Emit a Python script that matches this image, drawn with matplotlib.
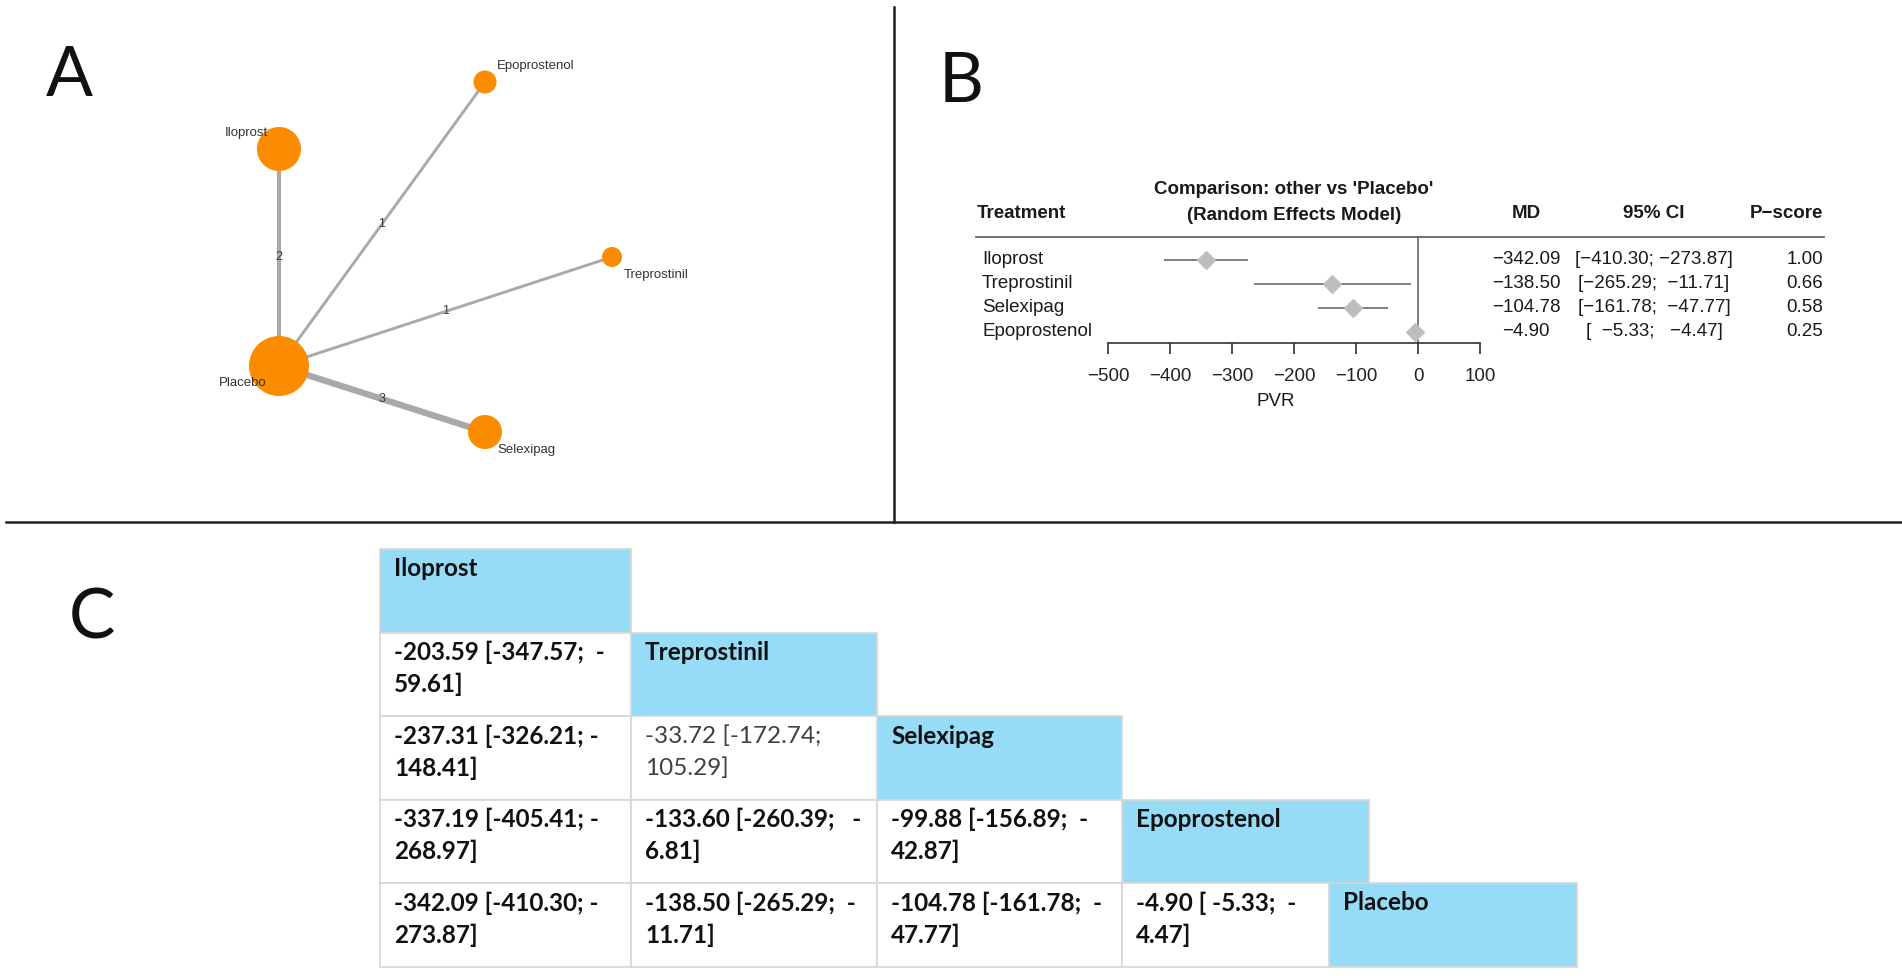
"""
Network meta-analysis figure: network plot (A), forest plot vs Placebo (B), league table (C)
"""

import numpy as np
import matplotlib.pyplot as plt
from matplotlib.patches import Circle, Rectangle
from matplotlib.transforms import blended_transform_factory

# ---- data ----
# A: network (number of studies per comparison with Placebo)
net_nodes = ["Iloprost", "Epoprostenol", "Treprostinil", "Placebo", "Selexipag"]
net_edges = [("Iloprost", "Placebo"), ("Epoprostenol", "Placebo"),
             ("Treprostinil", "Placebo"), ("Selexipag", "Placebo")]
net_studies = [2, 1, 1, 3]

# B: forest plot, other vs Placebo
forest_trt = ["Iloprost", "Treprostinil", "Selexipag", "Epoprostenol"]
forest_md = [-342.09, -138.50, -104.78, -4.90]
forest_lo = [-410.30, -265.29, -161.78, -5.33]
forest_hi = [-273.87, -11.71, -47.77, -4.47]
forest_pscore = [1.00, 0.66, 0.58, 0.25]
forest_ticks = [-500, -400, -300, -200, -100, 0, 100]

# C: league table
league_trt = ["Iloprost", "Treprostinil", "Selexipag", "Epoprostenol", "Placebo"]
league_vals = [
    [],
    ["-203.59 [-347.57;  -\n59.61]"],
    ["-237.31 [-326.21; -\n148.41]", "-33.72 [-172.74;\n105.29]"],
    ["-337.19 [-405.41; -\n268.97]", "-133.60 [-260.39;   -\n6.81]",
     "-99.88 [-156.89;  -\n42.87]"],
    ["-342.09 [-410.30; -\n273.87]", "-138.50 [-265.29;  -\n11.71]",
     "-104.78 [-161.78;  -\n47.77]", "-4.90 [ -5.33;  -\n4.47]"],
]
league_sig = [[], [True], [True, False], [True, True, True], [True, True, True, True]]

# ---- layout (pixels) ----
W, H = 1902, 976
node_pos = {"Iloprost": (279, 149), "Epoprostenol": (485, 82), "Treprostinil": (612, 257),
            "Placebo": (279, 366), "Selexipag": (485, 432)}
node_r = {"Iloprost": 22, "Epoprostenol": 11.5, "Treprostinil": 10, "Placebo": 30, "Selexipag": 17}
label_off = {"Iloprost": (-11, -16, "right"), "Epoprostenol": (12, -16, "left"),
             "Treprostinil": (12, 18, "left"), "Placebo": (-12, 17, "right"),
             "Selexipag": (12, 18, "left")}

col_edges = [380, 631, 877, 1122, 1329, 1577]
row_edges = [549, 632.5, 716, 799.5, 883, 966.5]

fig = plt.figure(figsize=(W / 100, H / 100), dpi=100)
ax = fig.add_axes([0, 0, 1, 1])
ax.set_xlim(0, W)
ax.set_ylim(H, 0)
ax.axis("off")

# separators and panel letters
ax.plot([894, 894], [7, 522], color="#222222", lw=1.8)
ax.plot([6, W], [522, 522], color="#222222", lw=1.8)
for lab, (x, y) in zip("ABC", [(69, 77), (961, 83), (92, 619)]):
    ax.text(x, y, lab, fontsize=50, family="Lato", ha="center", va="center", color="#111111")

# ---- A: network ----
edge_px = {1: 2.1, 2: 3.0, 3: 4.6}
for (a, b), n in zip(net_edges, net_studies):
    (x1, y1), (x2, y2) = node_pos[a], node_pos[b]
    ax.plot([x1, x2], [y1, y2], color="#a9a9a9", lw=edge_px[n], zorder=2, solid_capstyle="butt")
    ax.text((x1 + x2) / 2, (y1 + y2) / 2, str(n), fontsize=9, color="#3a3a3a",
            ha="center", va="center", family="Liberation Sans", zorder=3)
for name in net_nodes:
    x, y = node_pos[name]
    ax.add_patch(Circle((x, y), node_r[name], color="#fb8c00", zorder=4, lw=0))
    dx, dy, ha = label_off[name]
    ax.text(x + dx, y + dy, name, fontsize=9.5, color="#333333", ha=ha, va="center",
            family="Liberation Sans", zorder=5)

# ---- B: forest plot ----
ax_top, ax_bot, ax_l, ax_r = 237, 343, 1108, 1480
ax_f = fig.add_axes([ax_l / W, (H - ax_bot) / H, (ax_r - ax_l) / W, (ax_bot - ax_top) / H])
ax_f.set_xlim(-500, 100)
rows = np.arange(len(forest_trt))
ax_f.set_ylim((ax_bot - 260) / 24, (ax_top - 260) / 24)
ax_f.patch.set_alpha(0)
for s in ["top", "left", "right"]:
    ax_f.spines[s].set_visible(False)
ax_f.spines["bottom"].set_color("#333333")
ax_f.spines["bottom"].set_linewidth(1.2)
ax_f.set_yticks([])
ax_f.set_xticks(forest_ticks)
ax_f.tick_params(axis="x", length=8, width=1.2, color="#333333", pad=10,
                 labelsize=13.5, labelcolor="#222222")
for t in ax_f.get_xticklabels():
    t.set_family("Liberation Sans")
ax_f.axvline(0, color="#666666", lw=1.2)
ax_f.hlines(rows, forest_lo, forest_hi, color="#808080", lw=1.4)
diamond = [(0, 1), (1, 0), (0, -1), (-1, 0)]
ax_f.scatter(forest_md, rows, marker=diamond, s=200, color="#bebebe", zorder=3, lw=0)

fx = blended_transform_factory(ax_f.transData, ax.transData)
ry = blended_transform_factory(ax.transData, ax_f.transData)
fb = dict(family="Liberation Sans", fontsize=13.5, color="#1a1a1a")
ax.text(-230, 401, "PVR", transform=fx, ha="center", va="center", **fb)
ax.plot([976, 1824], [237, 237], color="#555555", lw=1.2)
ax.text(977, 214, "Treatment", ha="left", va="center", fontweight="bold", **fb)
ax.text(-200, 190, "Comparison: other vs 'Placebo'", transform=fx, ha="center", va="center",
        fontweight="bold", **fb)
ax.text(-200, 216, "(Random Effects Model)", transform=fx, ha="center", va="center",
        fontweight="bold", **fb)
ax.text(1526, 213, "MD", ha="center", va="center", fontweight="bold", **fb)
ax.text(1654, 213, "95% CI", ha="center", va="center", fontweight="bold", **fb)
ax.text(1823, 213, "P\u2212score", ha="right", va="center", fontweight="bold", **fb)


def fmt(v, w):
    return f"{v:.2f}".rjust(w).replace("-", "\u2212")


for i, name in enumerate(forest_trt):
    ax.text(982, i, name, transform=ry, ha="left", va="center", **fb)
    ax.text(1526, i, fmt(forest_md[i], 0), transform=ry, ha="center", va="center", **fb)
    ci = "[" + fmt(forest_lo[i], 7) + "; " + fmt(forest_hi[i], 7) + "]"
    ax.text(1654, i, ci, transform=ry, ha="center", va="center", **fb)
    ax.text(1823, i, f"{forest_pscore[i]:.2f}", transform=ry, ha="right", va="center", **fb)

# ---- C: league table ----
border = "#d6d6d6"
hdr = "#97dcf7"
tf = dict(family="Lato", fontsize=17.5)
for r, name in enumerate(league_trt):
    top, bot = row_edges[r], row_edges[r + 1]
    left, right = col_edges[r], col_edges[r + 1]
    if name == "Epoprostenol":
        right = 1369
    ax.add_patch(Rectangle((left, top), right - left, bot - top, facecolor=hdr,
                           edgecolor=border, lw=1.2, zorder=1))
    ax.text(left + 14, top + 20, name, ha="left", va="center", fontweight="bold",
            color="#111111", zorder=2, **tf)
    for c, val in enumerate(league_vals[r]):
        cl, cr = col_edges[c], col_edges[c + 1]
        ax.add_patch(Rectangle((cl, top), cr - cl, bot - top, facecolor="white",
                               edgecolor=border, lw=1.2, zorder=1))
        sig = league_sig[r][c]
        for k, line in enumerate(val.split("\n")):
            ax.text(cl + 14, top + 20 + 32 * k, line, ha="left", va="center",
                    fontweight="bold" if sig else "normal",
                    color="#111111" if sig else "#404040", zorder=2, **tf)

fig.savefig("out.png", dpi=100)
